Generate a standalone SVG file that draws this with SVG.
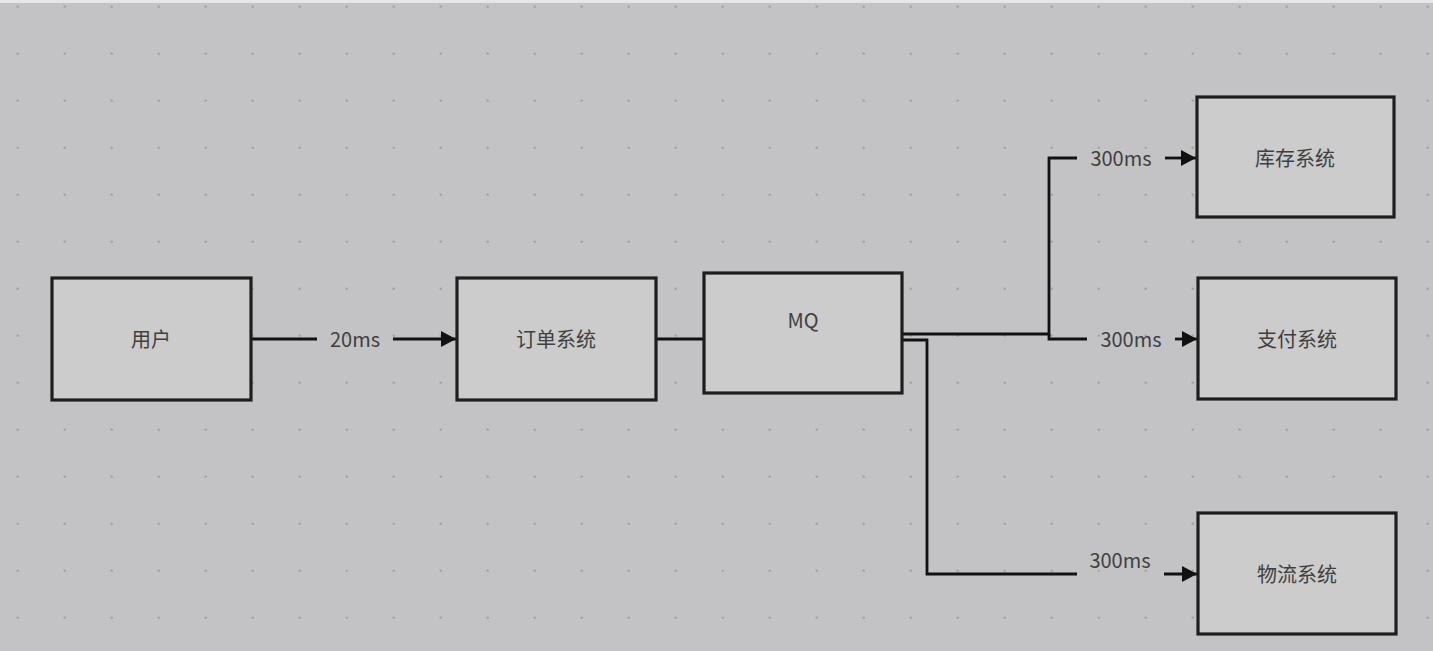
<svg xmlns="http://www.w3.org/2000/svg" width="1433" height="651" viewBox="0 0 1433 651">
<style>
.node rect{fill:#cccccc;stroke:#1e1e1e;stroke-width:3.2}
.lbl{font-family:"Noto Sans CJK SC","Noto Sans",sans-serif;font-size:20px;fill:#404040;text-anchor:middle;dominant-baseline:central}
.edge{fill:none;stroke:#111111;stroke-width:2.8}
</style>
<defs>
<pattern id="dots" patternUnits="userSpaceOnUse" x="16.7" y="5.7" width="47" height="47">
<rect x="0" y="0" width="2" height="2" fill="#9c9c9e"/>
</pattern>
<marker id="arr" markerUnits="userSpaceOnUse" markerWidth="16" markerHeight="16" refX="15" refY="8" orient="auto">
<path d="M0,0 L15,8 L0,16 z" fill="#111111"/>
</marker>
</defs>
<rect x="0" y="0" width="1433" height="651" fill="#c3c3c5"/>
<rect x="0" y="0" width="1433" height="651" fill="url(#dots)"/>
<rect x="0" y="0" width="1433" height="3" fill="#e6e6e8"/>
<g id="connectors">
<path class="edge" d="M251,339 H317"/>
<path class="edge" d="M393,339 H456" marker-end="url(#arr)"/>
<text class="lbl" x="355" y="338">20ms</text>
<path class="edge" d="M656,339 H704"/>
<path class="edge" d="M902,334 H1049 V158 H1077"/>
<path class="edge" d="M1165,158 H1196" marker-end="url(#arr)"/>
<text class="lbl" x="1121" y="157">300ms</text>
<path class="edge" d="M1049,334 V339 H1087"/>
<path class="edge" d="M1175,339 H1197" marker-end="url(#arr)"/>
<text class="lbl" x="1131" y="338">300ms</text>
<path class="edge" d="M902,340 H927 V574 H1077"/>
<path class="edge" d="M1164,574 H1197" marker-end="url(#arr)"/>
<text class="lbl" x="1120" y="559">300ms</text>
</g>
<g id="node-user" class="node"><rect x="52" y="278" width="199" height="122"/><text class="lbl" x="151" y="338">用户</text></g>
<g id="node-order" class="node"><rect x="457" y="278" width="199" height="122"/><text class="lbl" x="556" y="338">订单系统</text></g>
<g id="node-mq" class="node"><rect x="704" y="273" width="198" height="120"/><text class="lbl" x="803" y="319">MQ</text></g>
<g id="node-stock" class="node"><rect x="1197" y="97" width="197" height="120"/><text class="lbl" x="1295" y="157">库存系统</text></g>
<g id="node-pay" class="node"><rect x="1198" y="278" width="198" height="121"/><text class="lbl" x="1297" y="338">支付系统</text></g>
<g id="node-logistics" class="node"><rect x="1198" y="513" width="198" height="121"/><text class="lbl" x="1297" y="573">物流系统</text></g>
</svg>
